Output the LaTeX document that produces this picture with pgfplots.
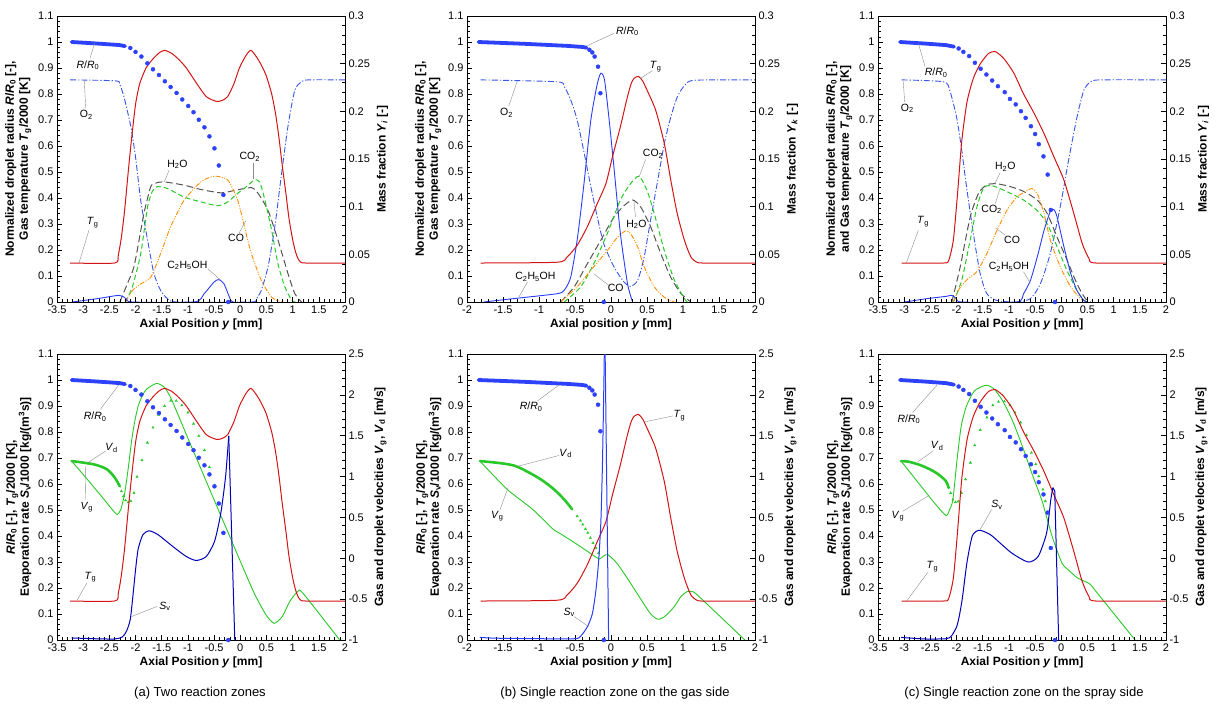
\documentclass[border=0pt]{standalone}
\usepackage{fontspec}
\setmainfont{Liberation Sans}
\usepackage{pgfplots}
\usepackage{pgfplotstable}
\pgfplotsset{compat=1.18}

\definecolor{tgred}{RGB}{210,20,20}
\definecolor{dotblue}{RGB}{45,65,250}
\definecolor{oxblue}{RGB}{55,85,230}
\definecolor{ethblue}{RGB}{40,60,250}
\definecolor{h2ogray}{RGB}{85,85,85}
\definecolor{co2green}{RGB}{40,200,40}
\definecolor{coorange}{RGB}{255,140,0}
\definecolor{svblue}{RGB}{0,0,185}
\definecolor{vgreen}{RGB}{40,200,40}
\definecolor{leadgray}{RGB}{140,140,140}

\pgfplotsset{
  base/.style={
    scale only axis, width=288pt, height=286pt, anchor=south west,
    xmax=2,
    tick align=inside, major tick length=5pt, minor tick length=2.8pt,
    minor x tick num=4, minor y tick num=4,
    tick style={black, line width=0.5pt},
    axis line style={line width=0.9pt},
    ticklabel style={font=\fontsize{11}{13}\selectfont},
    scaled ticks=false,
    /pgf/number format/fixed,
    /pgf/number format/precision=2,
    /pgf/number format/assume math mode=true,
    label style={font=\bfseries\fontsize{12}{14}\selectfont},
    clip mode=individual,
  },
  lax/.style={base, xtick pos=bottom, ytick pos=left, ymin=0, ymax=1.1,
    ytick={0,0.1,0.2,0.3,0.4,0.5,0.6,0.7,0.8,0.9,1,1.1},
    ylabel style={align=center},
    xlabel style={yshift=1pt}},
  rax/.style={base, axis y line*=right, axis x line=none},
  xa/.style={xmin=-3.5, xtick={-3.5,-3,-2.5,-2,-1.5,-1,-0.5,0,0.5,1,1.5,2}},
  xb/.style={xmin=-2, xtick={-2,-1.5,-1,-0.5,0,0.5,1,1.5,2}},
  spec/.style={rax, ymin=0, ymax=0.3, ytick={0,0.05,0.1,0.15,0.2,0.25,0.3}},
  velo/.style={rax, ymin=-1, ymax=2.5, ytick={-1,-0.5,0,0.5,1,1.5,2,2.5}},
  tg/.style={tgred, line width=1pt, smooth, tension=0.4, mark=none},
  rdense/.style={dotblue, line width=3.8pt, line cap=round, mark=none},
  rdots/.style={only marks, mark=*, mark size=2pt, dotblue},
  o2/.style={oxblue, line width=0.9pt, smooth, tension=0.4, mark=none, dash pattern=on 6pt off 2pt on 1.2pt off 2pt},
  eth/.style={ethblue, line width=0.9pt, smooth, tension=0.4, mark=none},
  h2o/.style={h2ogray, line width=1pt, smooth, tension=0.4, mark=none, dash pattern=on 7pt off 3.5pt},
  co2/.style={co2green, line width=1pt, smooth, tension=0.4, mark=none, dash pattern=on 5pt off 3pt},
  co/.style={coorange, line width=0.9pt, smooth, tension=0.4, mark=none, dash pattern=on 5pt off 1.5pt on 1pt off 1.5pt on 1pt off 1.5pt},
  sv/.style={svblue, line width=1pt, mark=none},
  vg/.style={vgreen, line width=0.9pt, smooth, tension=0.4, mark=none},
  vdense/.style={vgreen, line width=2.6pt, line cap=round, smooth, mark=none},
  vdots/.style={only marks, mark=triangle*, mark size=1.3pt, vgreen},
}
\tikzset{
  lead/.style={leadgray, line width=0.4pt},
  ann/.style={font=\fontsize{10.5}{12}\selectfont, inner sep=1pt},
}

% ---------- shared data (gas temperature and droplet radius) ----------
\pgfplotstableread{
x y
-3.25 0.15
-2.4 0.15
-2.33 0.18
-2.27 0.25
-2.21 0.35
-2.14 0.5
-2.08 0.62
-2.0 0.76
-1.92 0.84
-1.8 0.9
-1.667 0.935
-1.55 0.958
-1.445 0.968
-1.3 0.955
-1.16 0.93
-1.03 0.9
-0.84 0.843
-0.65 0.79
-0.46 0.772
-0.35 0.775
-0.24 0.79
-0.12 0.84
-0.017 0.9
0.1 0.945
0.205 0.968
0.35 0.93
0.487 0.875
0.6 0.8
0.677 0.72
0.74 0.63
0.8 0.528
0.87 0.42
0.93 0.322
1.0 0.24
1.055 0.193
1.1 0.168
1.15 0.154
1.25 0.15
2 0.15
}\TgA
\pgfplotstableread{
x y
-3.22 1.0
-2.8 0.995
-2.5 0.991
-2.3 0.988
-2.2 0.984
}\RdA
\pgfplotstableread{
x y
-2.1 0.977
-2.0 0.962
-1.888 0.944
-1.774 0.918
-1.667 0.895
-1.553 0.873
-1.44 0.849
-1.33 0.827
-1.216 0.804
-1.108 0.779
-0.994 0.754
-0.893 0.73
-0.792 0.701
-0.684 0.672
-0.589 0.637
-0.493 0.591
-0.41 0.525
-0.322 0.412
-0.23 0
}\RpA
\pgfplotstableread{
x y
-1.81 0.15
-0.75 0.153
-0.61 0.173
-0.47 0.218
-0.33 0.289
-0.19 0.379
-0.07 0.456
0.02 0.558
0.13 0.674
0.22 0.78
0.28 0.84
0.32 0.86
0.38 0.868
0.44 0.85
0.5 0.815
0.62 0.738
0.74 0.61
0.83 0.469
0.92 0.34
1.02 0.237
1.11 0.173
1.2 0.152
1.3 0.15
2 0.15
}\TgB
\pgfplotstableread{
x y
-1.84 1.0
-1.2 0.993
-0.6 0.985
-0.4 0.981
-0.34 0.978
}\RdB
\pgfplotstableread{
x y
-0.3 0.97
-0.26 0.96
-0.227 0.944
-0.18 0.905
-0.147 0.803
-0.1 0
}\RpB
\pgfplotstableread{
x y
-3.05 0.15
-2.25 0.15
-2.15 0.16
-2.06 0.24
-1.98 0.42
-1.9 0.62
-1.8 0.77
-1.68 0.86
-1.55 0.915
-1.39 0.956
-1.26 0.963
-1.1 0.937
-0.91 0.882
-0.72 0.8
-0.53 0.73
-0.33 0.648
-0.14 0.558
0.05 0.469
0.24 0.34
0.4 0.225
0.53 0.167
0.66 0.15
2 0.15
}\TgC
\pgfplotstableread{
x y
-3.08 1.0
-2.6 0.994
-2.2 0.988
-2.05 0.982
}\RdC
\pgfplotstableread{
x y
-1.96 0.975
-1.87 0.962
-1.76 0.946
-1.65 0.92
-1.54 0.897
-1.43 0.875
-1.32 0.852
-1.21 0.83
-1.08 0.807
-0.98 0.781
-0.87 0.76
-0.77 0.734
-0.68 0.708
-0.58 0.676
-0.5 0.646
-0.43 0.607
-0.34 0.56
-0.26 0.49
-0.2 0.354
-0.12 0
}\RpC

\begin{document}
\begin{tikzpicture}
\useasboundingbox (0,0) rectangle (1225pt,-713pt);

%%%%%%%%%%%%%%%%%%%% (a) top %%%%%%%%%%%%%%%%%%%%
\begin{axis}[spec, xa, at={(57pt,-302pt)}, ylabel={Mass fraction \textit{Y}\textsubscript{\textit{i}} [-]}]
\addplot[o2] coordinates {(-3.25,0.233) (-2.38,0.232) (-2.3,0.228) (-2.22,0.215) (-2.09,0.184) (-2.0,0.152) (-1.9,0.106) (-1.77,0.065) (-1.65,0.030) (-1.52,0.012) (-1.39,0.0035) (-1.2,0) (0.2,0) (0.3,0.003) (0.4,0.012) (0.53,0.037) (0.66,0.079) (0.78,0.131) (0.91,0.184) (1.04,0.222) (1.17,0.231) (1.3,0.233) (2.0,0.233)};
\addplot[h2o] coordinates {(-2.3,0) (-2.15,0.02) (-2.03,0.037) (-1.9,0.075) (-1.84,0.093) (-1.71,0.121) (-1.6,0.125) (-1.45,0.126) (-1.07,0.1225) (-0.75,0.118) (-0.37,0.1145) (-0.11,0.117) (0.21,0.12) (0.34,0.114) (0.53,0.096) (0.72,0.065) (0.91,0.030) (1.04,0.009) (1.17,0)};
\addplot[co2] coordinates {(-2.19,0) (-2.06,0.016) (-1.9,0.051) (-1.77,0.1) (-1.68,0.116) (-1.59,0.121) (-1.39,0.119) (-1.07,0.110) (-0.75,0.105) (-0.43,0.101) (-0.24,0.105) (-0.05,0.114) (0.14,0.122) (0.27,0.128) (0.37,0.126) (0.47,0.107) (0.6,0.075) (0.72,0.040) (0.85,0.016) (0.98,0.002) (1.05,0)};
\addplot[co] coordinates {(-2.19,0) (-2.06,0.012) (-1.9,0.019) (-1.71,0.026) (-1.52,0.051) (-1.33,0.079) (-1.07,0.107) (-0.75,0.126) (-0.5,0.132) (-0.24,0.128) (-0.05,0.107) (0.08,0.079) (0.21,0.051) (0.4,0.023) (0.6,0.005) (0.79,0)};
\addplot[eth] coordinates {(-3.21,0) (-2.73,0.0035) (-2.31,0.007) (-2.18,0.0035) (-2.06,0) (-0.88,0) (-0.69,0.0087) (-0.5,0.021) (-0.41,0.0235) (-0.31,0.019) (-0.18,0.0016) (-0.12,0)};
\end{axis}
\begin{axis}[lax, xa, at={(57pt,-302pt)},
  xlabel={Axial Position \textit{y} [mm]},
  ylabel={Normalized droplet radius \textit{R}/\textit{R}\textsubscript{0} [-],\\Gas temperature \textit{T}\textsubscript{g}/2000 [K]}]
\addplot[tg] table {\TgA};
\addplot[rdense] table {\RdA};
\addplot[rdots] table {\RpA};
\draw[lead] (axis cs:-2.78,0.997) -- (axis cs:-2.87,0.937);
\node[ann] at (axis cs:-2.91,0.911) {\textit{R}/\textit{R}\textsubscript{0}};
\draw[lead] (axis cs:-2.98,0.854) -- (axis cs:-2.95,0.745);
\node[ann] at (axis cs:-2.94,0.719) {O\textsubscript{2}};
\draw[lead] (axis cs:-3.08,0.15) -- (axis cs:-2.89,0.276);
\node[ann] at (axis cs:-2.82,0.306) {\textit{T}\textsubscript{g}};
\draw[lead] (axis cs:-1.45,0.462) -- (axis cs:-1.36,0.507);
\node[ann] at (axis cs:-1.2,0.529) {H\textsubscript{2}O};
\draw[lead] (axis cs:0.24,0.475) -- (axis cs:0.24,0.533);
\node[ann] at (axis cs:0.18,0.558) {CO\textsubscript{2}};
\draw[lead] (axis cs:0.11,0.314) -- (axis cs:-0.02,0.266);
\node[ann] at (axis cs:-0.08,0.246) {CO};
\draw[lead] (axis cs:-0.37,0.083) -- (axis cs:-0.62,0.128);
\node[ann] at (axis cs:-1.01,0.141) {C\textsubscript{2}H\textsubscript{5}OH};
\end{axis}

%%%%%%%%%%%%%%%%%%%% (b) top %%%%%%%%%%%%%%%%%%%%
\begin{axis}[spec, xb, at={(467pt,-302pt)}, ylabel={Mass fraction \textit{Y}\textsubscript{\textit{k}} [-]}]
\addplot[o2] coordinates {(-1.81,0.233) (-0.75,0.231) (-0.65,0.226) (-0.56,0.212) (-0.47,0.191) (-0.38,0.159) (-0.28,0.121) (-0.19,0.089) (-0.1,0.061) (0.04,0.037) (0.18,0.021) (0.27,0.0164) (0.37,0.0226) (0.46,0.047) (0.55,0.086) (0.65,0.128) (0.74,0.166) (0.83,0.194) (0.92,0.215) (1.02,0.227) (1.16,0.2326) (2,0.233)};
\addplot[h2o] coordinates {(-0.7,0) (-0.51,0.016) (-0.33,0.040) (-0.14,0.065) (0.04,0.089) (0.18,0.101) (0.3,0.107) (0.41,0.1) (0.55,0.079) (0.69,0.051) (0.83,0.026) (0.97,0.009) (1.11,0)};
\addplot[co2] coordinates {(-0.65,0) (-0.42,0.016) (-0.24,0.040) (-0.05,0.072) (0.13,0.107) (0.27,0.124) (0.39,0.132) (0.5,0.117) (0.6,0.093) (0.74,0.054) (0.88,0.023) (1.02,0.0035) (1.06,0)};
\addplot[co] coordinates {(-0.7,0) (-0.47,0.016) (-0.24,0.037) (-0.05,0.054) (0.09,0.068) (0.2,0.0745) (0.27,0.072) (0.37,0.058) (0.46,0.037) (0.6,0.016) (0.74,0.005) (0.88,0)};
\addplot[eth] coordinates {(-1.77,0) (-1.3,0.004) (-0.75,0.0087) (-0.65,0.0123) (-0.56,0.026) (-0.47,0.065) (-0.38,0.121) (-0.28,0.191) (-0.19,0.229) (-0.14,0.240) (-0.09,0.233) (-0.03,0.194) (0.04,0.142) (0.13,0.072) (0.23,0.019) (0.3,0)};
\end{axis}
\begin{axis}[lax, xb, at={(467pt,-302pt)},
  xlabel={Axial position \textit{y} [mm]},
  ylabel={Normalized droplet radius \textit{R}/\textit{R}\textsubscript{0} [-],\\Gas temperature \textit{T}\textsubscript{g}/2000 [K]}]
\addplot[tg] table {\TgB};
\addplot[rdense] table {\RdB};
\addplot[rdots] table {\RpB};
\draw[lead] (axis cs:-0.33,0.986) -- (axis cs:0.04,1.033);
\node[ann] at (axis cs:0.227,1.042) {\textit{R}/\textit{R}\textsubscript{0}};
\draw[lead] (axis cs:0.41,0.86) -- (axis cs:0.575,0.89);
\node[ann] at (axis cs:0.62,0.905) {\textit{T}\textsubscript{g}};
\draw[lead] (axis cs:-1.30,0.851) -- (axis cs:-1.42,0.754);
\node[ann] at (axis cs:-1.45,0.728) {O\textsubscript{2}};
\draw[lead] (axis cs:0.39,0.481) -- (axis cs:0.48,0.548);
\node[ann] at (axis cs:0.585,0.571) {CO\textsubscript{2}};
\draw[lead] (axis cs:0.32,0.385) -- (axis cs:0.34,0.327);
\node[ann] at (axis cs:0.353,0.299) {H\textsubscript{2}O};
\draw[lead] (axis cs:-1.28,0.019) -- (axis cs:-1.16,0.077);
\node[ann] at (axis cs:-1.05,0.096) {C\textsubscript{2}H\textsubscript{5}OH};
\draw[lead] (axis cs:-0.24,0.109) -- (axis cs:-0.03,0.064);
\node[ann] at (axis cs:0.065,0.055) {CO};
\end{axis}

%%%%%%%%%%%%%%%%%%%% (c) top %%%%%%%%%%%%%%%%%%%%
\begin{axis}[spec, xa, at={(878pt,-302pt)}, ylabel={Mass fraction \textit{Y}\textsubscript{\textit{i}} [-]}]
\addplot[o2] coordinates {(-3.05,0.233) (-2.25,0.231) (-2.13,0.222) (-2.0,0.194) (-1.9,0.159) (-1.81,0.121) (-1.68,0.072) (-1.55,0.030) (-1.42,0.0087) (-1.23,0.0016) (-0.85,0) (-0.59,0.0035) (-0.4,0.019) (-0.21,0.051) (-0.02,0.1) (0.14,0.149) (0.3,0.194) (0.43,0.222) (0.56,0.231) (0.75,0.233) (2,0.233)};
\addplot[h2o] coordinates {(-2.09,0) (-1.93,0.037) (-1.74,0.089) (-1.58,0.114) (-1.42,0.123) (-1.23,0.124) (-0.97,0.121) (-0.72,0.116) (-0.46,0.107) (-0.27,0.093) (-0.08,0.068) (0.11,0.044) (0.3,0.019) (0.46,0.0035) (0.56,0)};
\addplot[co2] coordinates {(-2.06,0) (-1.9,0.023) (-1.74,0.065) (-1.61,0.1) (-1.49,0.119) (-1.36,0.1225) (-1.17,0.119) (-0.97,0.114) (-0.72,0.107) (-0.46,0.096) (-0.27,0.082) (-0.08,0.058) (0.11,0.033) (0.3,0.012) (0.43,0.002) (0.5,0)};
\addplot[co] coordinates {(-2.06,0) (-1.97,0.012) (-1.81,0.023) (-1.61,0.032) (-1.42,0.051) (-1.23,0.075) (-1.04,0.096) (-0.85,0.110) (-0.65,0.117) (-0.56,0.119) (-0.46,0.114) (-0.33,0.093) (-0.21,0.065) (-0.02,0.037) (0.18,0.016) (0.37,0.0035) (0.5,0)};
\addplot[eth] coordinates {(-2.99,0) (-2.57,0.0035) (-2.19,0.006) (-2.09,0.007) (-2.0,0.0035) (-1.9,0) (-0.85,0) (-0.72,0.0087) (-0.59,0.0226) (-0.46,0.047) (-0.33,0.075) (-0.21,0.095) (-0.14,0.097) (-0.08,0.089) (0.05,0.058) (0.18,0.030) (0.3,0.012) (0.43,0.0016) (0.5,0)};
\end{axis}
\begin{axis}[lax, xa, at={(878pt,-302pt)},
  xlabel={Axial Position \textit{y} [mm]},
  ylabel={Normalized droplet radius \textit{R}/\textit{R}\textsubscript{0} [-],\\and Gas temperature \textit{T}\textsubscript{g}/2000 [K]}]
\addplot[tg] table {\TgC};
\addplot[rdense] table {\RdC};
\addplot[rdots] table {\RpC};
\draw[lead] (axis cs:-2.73,0.995) -- (axis cs:-2.6,0.905);
\node[ann] at (axis cs:-2.39,0.882) {\textit{R}/\textit{R}\textsubscript{0}};
\draw[lead] (axis cs:-3.02,0.851) -- (axis cs:-2.99,0.77);
\node[ann] at (axis cs:-2.94,0.745) {O\textsubscript{2}};
\draw[lead] (axis cs:-2.96,0.15) -- (axis cs:-2.73,0.276);
\node[ann] at (axis cs:-2.64,0.308) {\textit{T}\textsubscript{g}};
\draw[lead] (axis cs:-1.26,0.458) -- (axis cs:-1.17,0.497);
\node[ann] at (axis cs:-1.07,0.52) {H\textsubscript{2}O};
\draw[lead] (axis cs:-1.17,0.436) -- (axis cs:-1.26,0.379);
\node[ann] at (axis cs:-1.33,0.356) {CO\textsubscript{2}};
\draw[lead] (axis cs:-1.26,0.285) -- (axis cs:-1.07,0.257);
\node[ann] at (axis cs:-0.94,0.24) {CO};
\draw[lead] (axis cs:-0.59,0.071) -- (axis cs:-0.72,0.116);
\node[ann] at (axis cs:-1.0,0.135) {C\textsubscript{2}H\textsubscript{5}OH};
\end{axis}

%%%%%%%%%%%%%%%%%%%% (a) bottom %%%%%%%%%%%%%%%%%%%%
\begin{axis}[velo, xa, at={(57pt,-640pt)}, ylabel={Gas and droplet velocities \textit{V}\textsubscript{g}, \textit{V}\textsubscript{d} [m/s]}]
\addplot[vg] coordinates {(-3.22,1.19) (-2.9,0.95) (-2.6,0.72) (-2.45,0.6) (-2.35,0.537) (-2.28,0.6) (-2.206,0.8) (-2.14,1.1) (-2.08,1.415) (-2.02,1.66) (-1.95,1.864) (-1.87,1.99) (-1.79,2.07) (-1.6,2.14) (-1.445,2.09) (-1.317,1.95) (-1.127,1.663) (-0.937,1.374) (-0.746,1.087) (-0.556,0.8) (-0.366,0.515) (-0.175,0.228) (0.03,-0.08) (0.236,-0.386) (0.363,-0.548) (0.5,-0.7) (0.645,-0.796) (0.8,-0.714) (0.95,-0.523) (1.1,-0.405) (1.2,-0.43) (1.9,-1.0)};
\addplot[vdense] coordinates {(-3.22,1.19) (-2.8,1.15) (-2.55,1.09) (-2.4,0.99) (-2.3,0.88)};
\addplot[vdots] coordinates {(-2.27,0.82) (-2.23,0.76) (-2.19,0.71) (-2.14,0.686) (-2.09,0.70) (-2.03,0.80) (-1.972,0.998) (-1.877,1.2) (-1.774,1.415) (-1.667,1.6) (-1.559,1.755) (-1.445,1.864) (-1.33,1.927) (-1.222,1.927) (-1.115,1.873) (-1.0,1.784) (-0.893,1.647) (-0.792,1.498) (-0.684,1.323) (-0.589,1.116) (-0.493,0.893)};
\end{axis}
\begin{axis}[lax, xa, at={(57pt,-640pt)},
  xlabel={Axial Position \textit{y} [mm]},
  ylabel={\textit{R}/\textit{R}\textsubscript{0} [-], \textit{T}\textsubscript{g}/2000 [K],\\Evaporation rate \textit{S}\textsubscript{v}/1000 [kg/(m\textsuperscript{3}s)]}]
\addplot[tg] table {\TgA};
\addplot[sv, smooth, tension=0.4] coordinates {(-3.22,0.008) (-2.8,0.005) (-2.4,0.004) (-2.25,0.012) (-2.17,0.035) (-2.1,0.08) (-2.05,0.17) (-2.0,0.27) (-1.95,0.35) (-1.86,0.405) (-1.74,0.42) (-1.57,0.405) (-1.29,0.36) (-1.03,0.321) (-0.84,0.306) (-0.65,0.321) (-0.49,0.38) (-0.37,0.49) (-0.28,0.63) (-0.22,0.785)};
\addplot[sv] coordinates {(-0.22,0.785) (-0.105,0)};
\addplot[rdense] table {\RdA};
\addplot[rdots] table {\RpA};
\draw[lead] (axis cs:-2.32,0.981) -- (axis cs:-2.67,0.888);
\node[ann] at (axis cs:-2.77,0.86) {\textit{R}/\textit{R}\textsubscript{0}};
\draw[lead] (axis cs:-2.91,0.682) -- (axis cs:-2.57,0.727);
\node[ann] at (axis cs:-2.46,0.74) {\textit{V}\textsubscript{d}};
\draw[lead] (axis cs:-2.96,0.669) -- (axis cs:-2.95,0.54);
\node[ann] at (axis cs:-2.93,0.511) {\textit{V}\textsubscript{g}};
\draw[lead] (axis cs:-3.12,0.152) -- (axis cs:-2.93,0.219);
\node[ann] at (axis cs:-2.86,0.242) {\textit{T}\textsubscript{g}};
\draw[lead] (axis cs:-2.08,0.09) -- (axis cs:-1.59,0.129);
\node[ann] at (axis cs:-1.44,0.129) {\textit{S}\textsubscript{v}};
\end{axis}

%%%%%%%%%%%%%%%%%%%% (b) bottom %%%%%%%%%%%%%%%%%%%%
\begin{axis}[velo, xb, at={(467pt,-640pt)}, ylabel={Gas and droplet velocities \textit{V}\textsubscript{g}, \textit{V}\textsubscript{d} [m/s]}]
\addplot[vg] coordinates {(-1.82,1.19) (-1.45,0.85) (-1.09,0.6) (-0.81,0.36) (-0.72,0.31) (-0.54,0.21) (-0.36,0.105) (-0.26,0.044) (-0.16,-0.008) (-0.1,0.03) (-0.044,0.044) (0.08,-0.058) (0.24,-0.262) (0.42,-0.509) (0.55,-0.68) (0.65,-0.746) (0.75,-0.71) (0.88,-0.59) (0.97,-0.47) (1.06,-0.406) (1.12,-0.41) (1.2,-0.45) (1.86,-1)};
\addplot[vdense] coordinates {(-1.82,1.19) (-1.5,1.16) (-1.3,1.12) (-1.0,0.98) (-0.8,0.85) (-0.65,0.72) (-0.54,0.6)};
\addplot[vdots] coordinates {(-0.47,0.515) (-0.424,0.461) (-0.392,0.413) (-0.355,0.359) (-0.323,0.311) (-0.286,0.25) (-0.25,0.187) (-0.209,0.126) (-0.172,0.065)};
\end{axis}
\begin{axis}[lax, xb, at={(467pt,-640pt)},
  xlabel={Axial position \textit{y} [mm]},
  ylabel={\textit{R}/\textit{R}\textsubscript{0} [-], \textit{T}\textsubscript{g}/2000 [K],\\Evaporation rate \textit{S}\textsubscript{v}/1000 [kg/(m\textsuperscript{3}s)]}]
\addplot[tg] table {\TgB};
\addplot[sv, color=ethblue, smooth, tension=0.4] coordinates {(-1.82,0.01) (-1.6,0.007) (-1.0,0.005) (-0.5,0.005) (-0.42,0.015) (-0.33,0.05) (-0.26,0.1) (-0.21,0.19) (-0.17,0.31) (-0.14,0.46) (-0.117,0.7) (-0.094,1.08) (-0.09,1.3)};
\addplot[sv, color=ethblue] coordinates {(-0.09,1.3) (-0.033,0)};
\addplot[rdense] table {\RdB};
\addplot[rdots] table {\RpB};
\draw[lead] (axis cs:-0.72,0.981) -- (axis cs:-1.02,0.92);
\node[ann] at (axis cs:-1.11,0.897) {\textit{R}/\textit{R}\textsubscript{0}};
\draw[lead] (axis cs:0.47,0.839) -- (axis cs:0.86,0.862);
\node[ann] at (axis cs:0.95,0.862) {\textit{T}\textsubscript{g}};
\draw[lead] (axis cs:-1.31,0.667) -- (axis cs:-0.72,0.71);
\node[ann] at (axis cs:-0.63,0.718) {\textit{V}\textsubscript{d}};
\draw[lead] (axis cs:-1.43,0.586) -- (axis cs:-1.54,0.502);
\node[ann] at (axis cs:-1.58,0.476) {\textit{V}\textsubscript{g}};
\draw[lead] (axis cs:-0.31,0.051) -- (axis cs:-0.51,0.09);
\node[ann] at (axis cs:-0.58,0.106) {\textit{S}\textsubscript{v}};
\end{axis}

%%%%%%%%%%%%%%%%%%%% (c) bottom %%%%%%%%%%%%%%%%%%%%
\begin{axis}[velo, xa, at={(878pt,-640pt)}, ylabel={Gas and droplet velocities \textit{V}\textsubscript{g}, \textit{V}\textsubscript{d} [m/s]}]
\addplot[vg] coordinates {(-3.06,1.19) (-2.7,0.9) (-2.4,0.66) (-2.2,0.524) (-2.13,0.6) (-2.07,0.718) (-1.99,1.211) (-1.91,1.622) (-1.81,1.864) (-1.66,2.048) (-1.44,2.118) (-1.28,2.07) (-1.12,1.927) (-0.93,1.682) (-0.745,1.374) (-0.555,1.027) (-0.366,0.699) (-0.176,0.27) (0.013,-0.058) (0.15,-0.15) (0.3,-0.236) (0.45,-0.284) (0.55,-0.316) (0.69,-0.427) (1.41,-1)};
\addplot[vdense] coordinates {(-3.06,1.19) (-2.9,1.18) (-2.65,1.13) (-2.4,1.05) (-2.21,0.95) (-2.15,0.86)};
\addplot[vdots] coordinates {(-2.114,0.80) (-2.07,0.718) (-2.02,0.686) (-1.97,0.696) (-1.906,0.80) (-1.83,0.966) (-1.736,1.17) (-1.654,1.383) (-1.547,1.571) (-1.42,1.724) (-1.307,1.873) (-1.2,1.915) (-1.087,1.921) (-0.98,1.873) (-0.885,1.784) (-0.778,1.663) (-0.665,1.507) (-0.57,1.291) (-0.488,1.151) (-0.431,1.004) (-0.35,0.842) (-0.305,0.699) (-0.255,0.556)};
\end{axis}
\begin{axis}[lax, xa, at={(878pt,-640pt)},
  xlabel={Axial Position \textit{y} [mm]},
  ylabel={\textit{R}/\textit{R}\textsubscript{0} [-], \textit{T}\textsubscript{g}/2000 [K],\\Evaporation rate \textit{S}\textsubscript{v}/1000 [kg/(m\textsuperscript{3}s)]}]
\addplot[tg] table {\TgC};
\addplot[sv, smooth, tension=0.4] coordinates {(-3.06,0.01) (-2.6,0.004) (-2.2,0.005) (-2.1,0.015) (-2.0,0.05) (-1.95,0.09) (-1.89,0.16) (-1.8,0.3) (-1.7,0.4) (-1.58,0.422) (-1.45,0.415) (-1.32,0.4) (-0.95,0.335) (-0.63,0.3) (-0.44,0.322) (-0.28,0.412) (-0.2,0.54) (-0.16,0.586)};
\addplot[sv] coordinates {(-0.16,0.586) (-0.125,0.573) (-0.05,0)};
\addplot[rdense] table {\RdC};
\addplot[rdots] table {\RpC};
\draw[lead] (axis cs:-2.37,0.981) -- (axis cs:-2.84,0.875);
\node[ann] at (axis cs:-2.91,0.849) {\textit{R}/\textit{R}\textsubscript{0}};
\draw[lead] (axis cs:-2.74,0.685) -- (axis cs:-2.45,0.727);
\node[ann] at (axis cs:-2.37,0.746) {\textit{V}\textsubscript{d}};
\draw[lead] (axis cs:-2.55,0.553) -- (axis cs:-3.03,0.495);
\node[ann] at (axis cs:-3.12,0.476) {\textit{V}\textsubscript{g}};
\draw[lead] (axis cs:-2.96,0.148) -- (axis cs:-2.55,0.26);
\node[ann] at (axis cs:-2.46,0.283) {\textit{T}\textsubscript{g}};
\draw[lead] (axis cs:-1.55,0.425) -- (axis cs:-1.33,0.502);
\node[ann] at (axis cs:-1.23,0.521) {\textit{S}\textsubscript{v}};
\end{axis}

%%%%%%%%%%%%%%%%%%%% captions %%%%%%%%%%%%%%%%%%%%
\node[font=\fontsize{13}{15}\selectfont] at (200pt,-693pt) {(a) Two reaction zones};
\node[font=\fontsize{13}{15}\selectfont] at (615pt,-693pt) {(b) Single reaction zone on the gas side};
\node[font=\fontsize{13}{15}\selectfont] at (1024pt,-693pt) {(c) Single reaction zone on the spray side};
\end{tikzpicture}
\end{document}
